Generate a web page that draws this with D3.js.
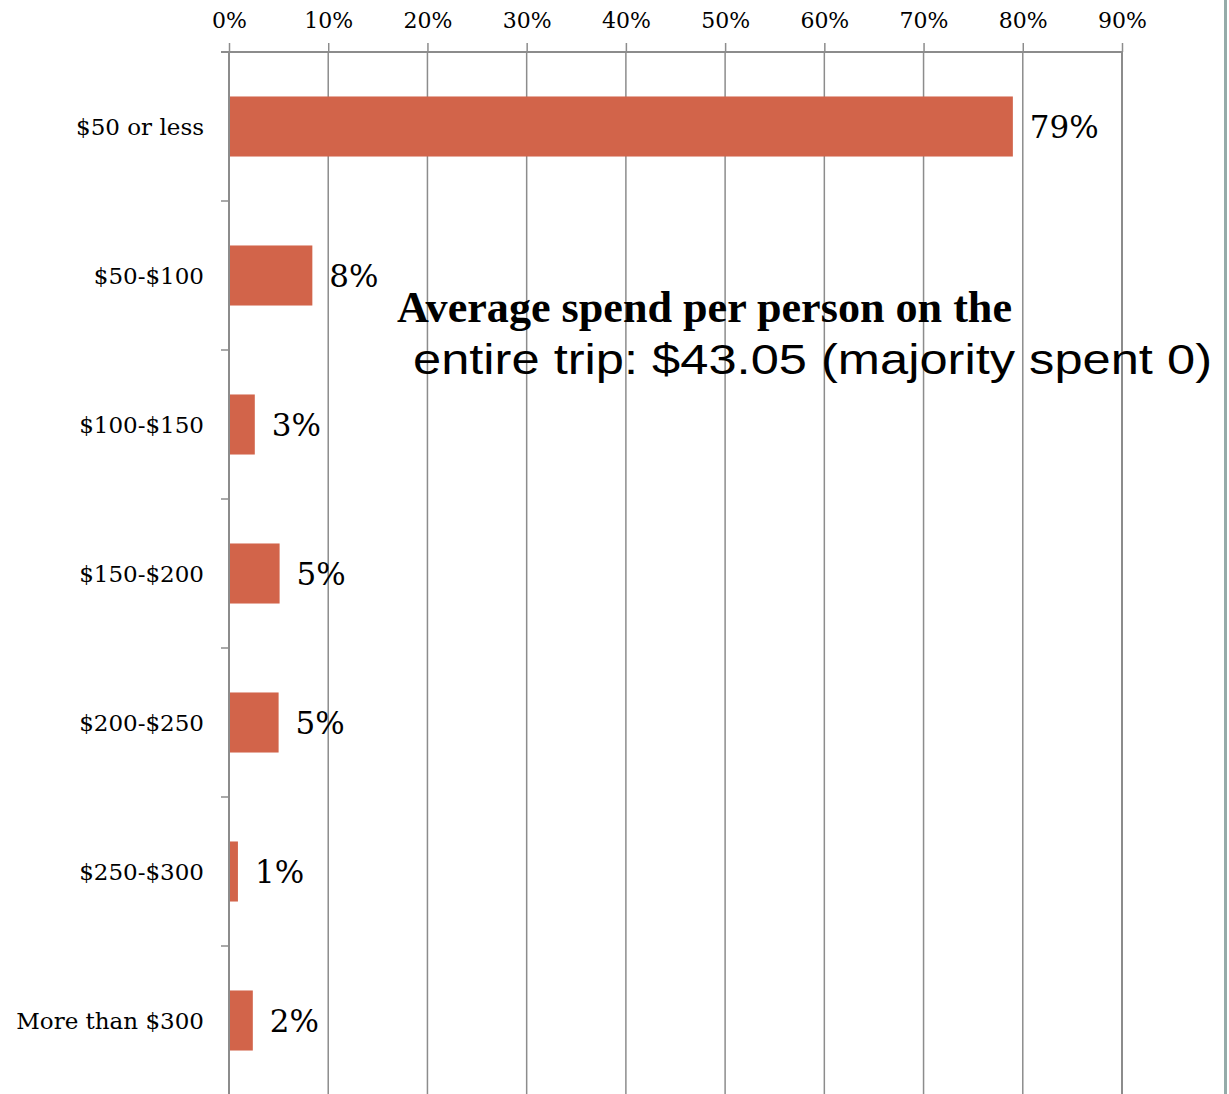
<!DOCTYPE html>
<html>
<head>
<meta charset="utf-8">
<script src="https://cdn.jsdelivr.net/npm/d3@7"></script>
<style>
  html, body { margin: 0; padding: 0; background: #fff; }
  svg { display: block; }
</style>
</head>
<body>
<svg id="chart" width="1229" height="1094"></svg>
<script>
const categories = ["$50 or less", "$50-$100", "$100-$150", "$150-$200", "$200-$250", "$250-$300", "More than $300"];
const values = [0.79, 0.084, 0.026, 0.051, 0.050, 0.009, 0.024];
const tickValues = [0, 0.1, 0.2, 0.3, 0.4, 0.5, 0.6, 0.7, 0.8, 0.9];
const annotationLines = ["Average spend per person on the", "entire trip: $43.05 (majority spent 0)"];

(function () {
const svg = d3.select("#chart");
const W = 1229, H = 1094;
const mLeft = 229, mRight = 1122, mTop = 52, mBottom = 1095;

const x = d3.scaleLinear().domain([0, 0.9]).range([mLeft, mRight]);
const y = d3.scaleBand().domain(categories).range([mTop, mBottom])
  .paddingInner(0.597).paddingOuter(0.2985);
const step = y.step();

const serif = "'DejaVu Serif', serif";
const gridColor = "#8c8c8c";

// right frame line
svg.append("line").attr("x1", 1225.5).attr("x2", 1225.5).attr("y1", 0).attr("y2", H)
  .attr("stroke", "#95aba9").attr("stroke-width", 3);

// gridlines
svg.append("g").selectAll("line").data(tickValues).join("line")
  .attr("x1", d => x(d)).attr("x2", d => x(d))
  .attr("y1", mTop).attr("y2", H)
  .attr("stroke", gridColor).attr("stroke-width", (d, i) => i === tickValues.length - 1 ? 2 : 1.5);

// top axis
const xAxis = d3.axisTop(x).tickValues(tickValues).tickFormat(d3.format(".0%")).tickSize(9).tickSizeOuter(0);
const gx = svg.append("g").attr("transform", `translate(0,${mTop})`).call(xAxis);
gx.select(".domain").remove();
gx.append("line").attr("x1", mLeft - 8).attr("x2", mRight).attr("y1", 0).attr("y2", 0)
  .attr("stroke", gridColor).attr("stroke-width", 2);
gx.selectAll(".tick line").attr("stroke", gridColor).attr("stroke-width", 1.5);
gx.selectAll(".tick text").attr("font-family", serif).attr("font-size", 22)
  .attr("fill", "#000").attr("y", -24);

// left axis line + boundary ticks
const boundaries = d3.range(categories.length + 1).map(i => mTop + i * step);
svg.append("line").attr("x1", mLeft).attr("x2", mLeft).attr("y1", mTop).attr("y2", H)
  .attr("stroke", gridColor).attr("stroke-width", 2);
svg.append("g").selectAll("line").data(boundaries).join("line")
  .attr("x1", mLeft - 8).attr("x2", mLeft).attr("y1", d => d).attr("y2", d => d)
  .attr("stroke", gridColor).attr("stroke-width", 1.5);

// category labels
svg.append("g").selectAll("text").data(categories).join("text")
  .attr("x", 204).attr("y", d => y(d) + y.bandwidth() / 2)
  .attr("dy", "0.36em").attr("text-anchor", "end")
  .attr("font-family", serif).attr("font-size", 23).attr("fill", "#000")
  .text(d => d);

// bars
const data = categories.map((c, i) => ({ c, v: values[i] }));
svg.append("g").selectAll("rect").data(data).join("rect")
  .attr("x", x(0) + 1).attr("y", d => y(d.c))
  .attr("width", d => x(d.v) - x(0) - 1).attr("height", y.bandwidth())
  .attr("fill", "#d2644a");

// value labels
svg.append("g").selectAll("text").data(data).join("text")
  .attr("x", d => x(d.v) + 17).attr("y", d => y(d.c) + y.bandwidth() / 2)
  .attr("dy", "0.38em")
  .attr("font-family", serif).attr("font-size", 31).attr("fill", "#000")
  .text(d => d3.format(".0%")(d.v));

// annotation
svg.append("text").attr("x", 397).attr("y", 322)
  .attr("font-family", "'Liberation Serif', serif").attr("font-weight", "bold")
  .attr("font-size", 45).attr("fill", "#000")
  .attr("textLength", 615).attr("lengthAdjust", "spacingAndGlyphs")
  .text(annotationLines[0]);
svg.append("text").attr("x", 413).attr("y", 374)
  .attr("font-family", "'Liberation Sans', sans-serif")
  .attr("font-size", 43).attr("fill", "#000")
  .attr("textLength", 799).attr("lengthAdjust", "spacingAndGlyphs")
  .text(annotationLines[1]);
})();
</script>
</body>
</html>
